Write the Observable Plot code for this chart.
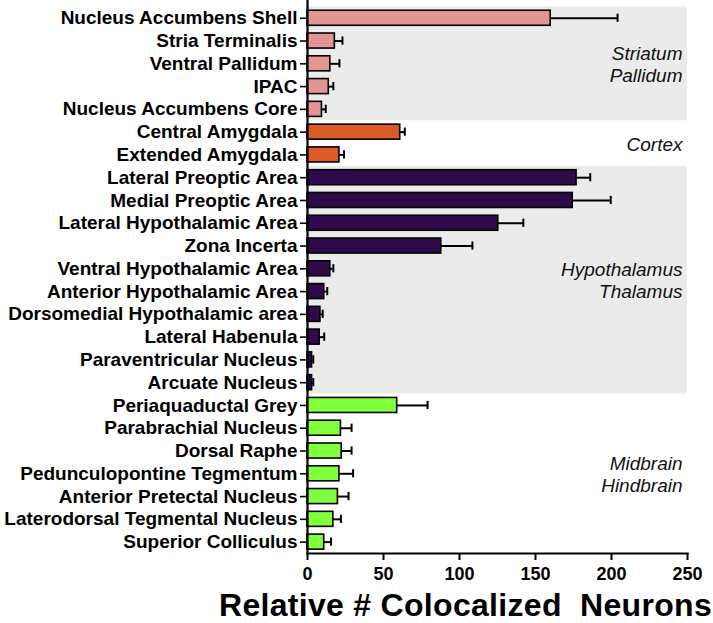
<!DOCTYPE html>
<html>
<head>
<meta charset="utf-8">
<script src="https://cdn.jsdelivr.net/npm/d3@7"></script>
<script src="https://cdn.jsdelivr.net/npm/@observablehq/plot@0.6"></script>
<style>
  html, body { margin: 0; padding: 0; background: #fff; }
  #chart svg { display: block; }
  #title { font-family: "Liberation Sans", Arial, sans-serif; font-weight: bold; font-size: 32px; line-height: 30px; height: 33px; padding-left: 219px; letter-spacing: 0.3px; white-space: pre; color: #000; }
</style>
</head>
<body>
<div id="chart"></div>
<div id="title">Relative # Colocalized  Neurons</div>
<script>
const regions = [
  "Nucleus Accumbens Shell", "Stria Terminalis", "Ventral Pallidum", "IPAC", "Nucleus Accumbens Core",
  "Central Amygdala", "Extended Amygdala",
  "Lateral Preoptic Area", "Medial Preoptic Area", "Lateral Hypothalamic Area", "Zona Incerta",
  "Ventral Hypothalamic Area", "Anterior Hypothalamic Area", "Dorsomedial Hypothalamic area",
  "Lateral Habenula", "Paraventricular Nucleus", "Arcuate Nucleus",
  "Periaquaductal Grey", "Parabrachial Nucleus", "Dorsal Raphe", "Pedunculopontine Tegmentum",
  "Anterior Pretectal Nucleus", "Laterodorsal Tegmental Nucleus", "Superior Colliculus"
];
const means = [160, 18, 15, 14, 9.5, 61, 21, 177, 174.5, 125.5, 88, 15, 11, 8.5, 8, 3, 3, 59, 22, 22.5, 21, 20, 17, 11];
const errTop = [204, 23, 21, 17, 12, 64, 24, 186, 199.5, 142, 108.5, 17, 13, 10, 11, 3.8, 3.8, 79, 29, 29, 30, 27, 22, 15.5];

const groupLabels = ["Striatum\nPallidum", "Cortex", "Hypothalamus\nThalamus", "Midbrain\nHindbrain"];
const groupSizes = [5, 2, 10, 7];
const groupColors = ["#e39494", "#dc5a24", "#2d0a4a", "#80ff3c"];
const groupShaded = [true, false, true, false];
const xTicks = [0, 50, 100, 150, 200, 250];

// Build tables
const groups = [];
let start = 0;
groupLabels.forEach((label, g) => {
  groups.push({label, start, end: start + groupSizes[g] - 1, color: groupColors[g], shaded: groupShaded[g]});
  start += groupSizes[g];
});
const data = regions.map((name, i) => {
  const g = groups.find(gr => i >= gr.start && i <= gr.end);
  return {name, i, value: means[i], err: errTop[i], color: g.color};
});
const idx = regions.map((_, i) => i);

const font = "'Liberation Sans', Arial, sans-serif";

const chart = Plot.plot({
  width: 713,
  height: 590,
  marginTop: 0,
  marginBottom: 37,
  marginLeft: 307,
  marginRight: 26,
  style: {fontFamily: font, background: "#fff", color: "#000"},
  x: {domain: [0, 250]},
  y: {domain: [-0.78, 23.5], reverse: true},
  marks: [
    Plot.rect(groups.filter(g => g.shaded), {
      x1: 0, x2: 250, y1: g => g.start - 0.5, y2: g => g.end + 0.5, fill: "#ebebeb"
    }),
    Plot.ruleY(data, {x1: "value", x2: "err", y: "i", stroke: "#000", strokeWidth: 2}),
    Plot.ruleX(data, {x: "err", y1: d => d.i - 0.18, y2: d => d.i + 0.18, stroke: "#000", strokeWidth: 2}),
    Plot.rectX(data, {
      x1: 0, x2: "value", y1: d => d.i - 0.33, y2: d => d.i + 0.33,
      fill: "color", stroke: "#000", strokeWidth: 1.6
    }),
    Plot.text(groups, {
      x: 250, y: g => (g.start + g.end) / 2, text: "label", textAnchor: "end", dx: -5,
      fontSize: 19, fontStyle: "italic", lineHeight: 1.15, fill: "#111"
    }),
    Plot.axisY(idx, {
      tickFormat: i => regions[i], tickSize: 7, tickPadding: 3, fontSize: 19, fontWeight: "bold",
      strokeWidth: 1.6, label: null
    }),
    Plot.axisX(xTicks, {
      tickSize: 7, tickPadding: 7, fontSize: 18, fontWeight: "bold", strokeWidth: 2, label: null
    }),
    Plot.frame({anchor: "left", strokeWidth: 2.2}),
    Plot.frame({anchor: "bottom", strokeWidth: 2.2})
  ]
});
document.getElementById("chart").appendChild(chart);
</script>
</body>
</html>
